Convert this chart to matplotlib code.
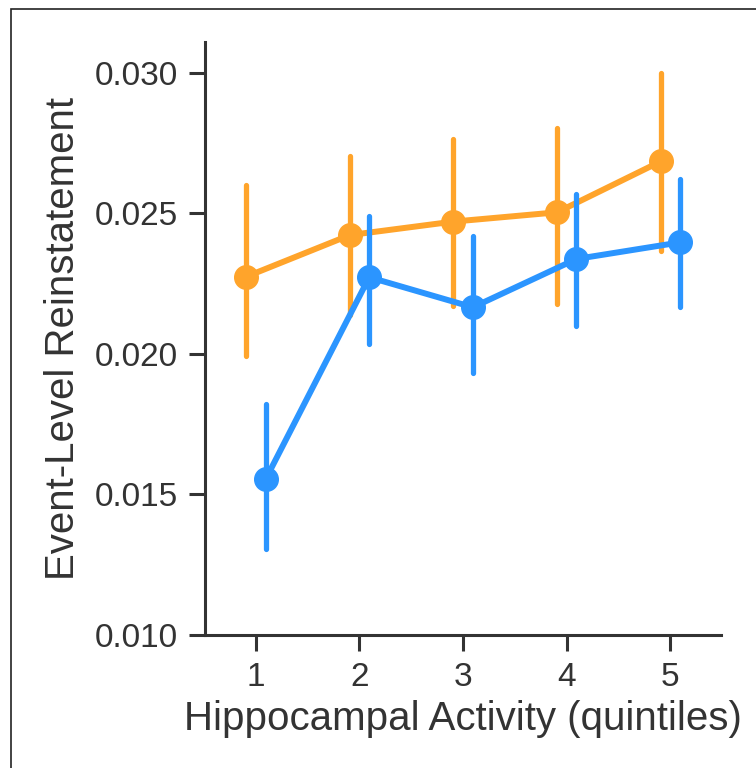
import numpy as np
import matplotlib.pyplot as plt
from matplotlib.patches import Rectangle

plt.rcParams['font.family'] = ['Liberation Sans', 'DejaVu Sans']

# Data
quintiles = ['1', '2', '3', '4', '5']
orange_mean = [0.02275, 0.02423, 0.02471, 0.02504, 0.02685]
orange_lo = [0.01991, 0.02140, 0.02172, 0.02178, 0.02368]
orange_hi = [0.02602, 0.02705, 0.02765, 0.02804, 0.03001]
blue_mean = [0.01554, 0.02273, 0.02166, 0.02338, 0.02397]
blue_lo = [0.01306, 0.02036, 0.01931, 0.02101, 0.02166]
blue_hi = [0.01821, 0.02492, 0.02421, 0.02569, 0.02622]

orange = '#FFA42B'
blue = '#2B95FF'
ink = '#333333'

fig = plt.figure(figsize=(7.56, 7.68), dpi=100)
ax = fig.add_axes([205/756, 1 - 635/768, 516/756, 593/768])

x = np.arange(len(quintiles))
series = [(orange_mean, orange_lo, orange_hi, orange, -0.092),
          (blue_mean, blue_lo, blue_hi, blue, 0.095)]
for i, (m, lo, hi, c, off) in enumerate(series):
    xs = x + off
    z = 2 + i * 2
    ax.plot(xs, m, color=c, lw=4.3, marker='o', ms=17, zorder=z)
    ax.vlines(xs, lo, hi, color=c, lw=3.8, capstyle='round', zorder=z + 1)

ax.set_xlim(-0.49, 4.49)
ax.set_ylim(0.010, 0.0311)
ax.set_xticks(x)
ax.set_xticklabels(quintiles)
ax.set_yticks([0.010, 0.015, 0.020, 0.025, 0.030])
ax.set_yticklabels(['0.010', '0.015', '0.020', '0.025', '0.030'])

for s in ['top', 'right']:
    ax.spines[s].set_visible(False)
for s in ['left', 'bottom']:
    ax.spines[s].set_linewidth(2.2)
    ax.spines[s].set_color(ink)

ax.tick_params(length=11.5, width=2.2, color=ink, labelsize=24,
               labelcolor=ink, pad=8)
ax.set_xlabel('Hippocampal Activity (quintiles)', fontsize=29, color=ink,
              labelpad=5)
ax.set_ylabel('Event-Level Reinstatement', fontsize=29, color=ink,
              labelpad=9)

# thin frame around the panel (cropped on right/bottom)
fig.patches.append(Rectangle((11/756, -0.01), 1.0, 1 - 9/768 + 0.01,
                             transform=fig.transFigure, fill=False,
                             ec='#222222', lw=1.2))

fig.savefig('out.png', dpi=100)
